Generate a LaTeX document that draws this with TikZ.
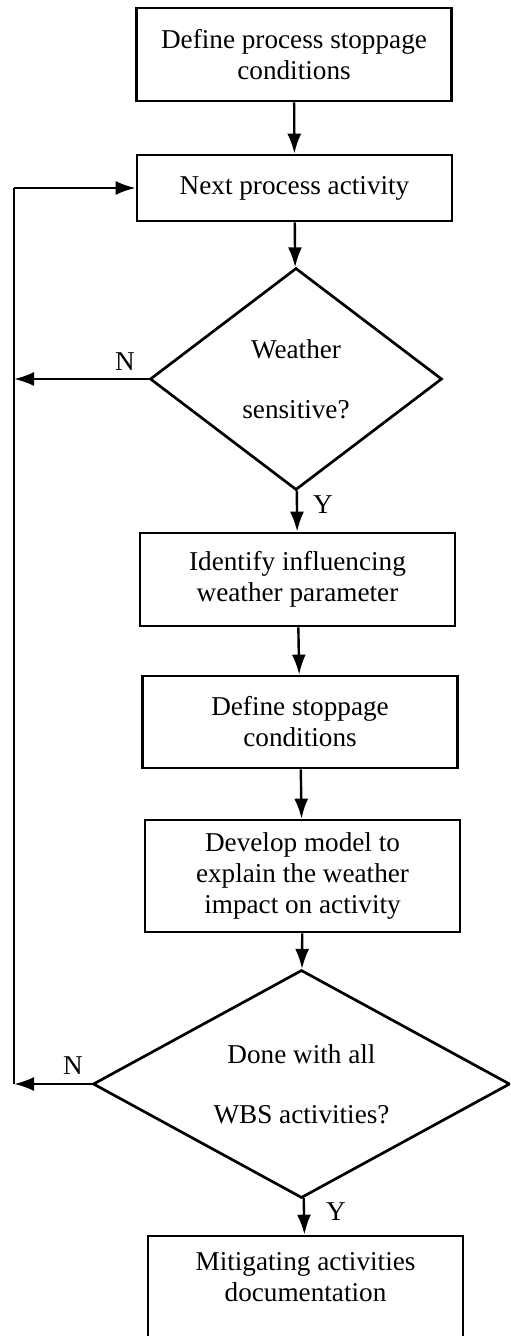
\documentclass[tikz,border=0pt]{standalone}
\usepackage{fontspec}
\setmainfont{Liberation Serif}
\usetikzlibrary{arrows.meta}
\usetikzlibrary{shapes.geometric}

\tikzset{
stepbox/.style={draw, line width=1.35pt, minimum width=157.5pt, align=center, inner sep=2pt},
decision/.style={draw, diamond, line width=1.35pt, align=center, inner sep=0pt},
flow/.style={line width=1.2pt, -{Latex[length=10pt,width=7pt]}},
}

\begin{document}
\begin{tikzpicture}[x=0.5pt, y=-0.5pt, font=\fontsize{13.6pt}{15.5pt}\selectfont]
\useasboundingbox (0,0) rectangle (510,1336);
\clip (0,0) rectangle (510,1336);

%process steps
\node[stepbox, minimum height=46.5pt] (define) at (294,54.5) {Define process stoppage\\conditions};
\node[stepbox, minimum height=33pt] (next) at (294.5,188) {Next process activity};
\node[decision, minimum width=146pt, minimum height=111pt, shape aspect=1.3] (sensitive) at (296,379) {Weather\\[14.5pt]sensitive?};
\node[stepbox, minimum height=46.5pt] (identify) at (297.5,579.5) {Identify influencing\\weather parameter};
\node[stepbox, minimum height=46pt] (stoppage) at (300,722) {Define stoppage\\conditions};
\node[stepbox, minimum height=56pt] (model) at (302.5,876) {Develop model to\\explain the weather\\impact on activity};
\node[decision, minimum width=208.5pt, minimum height=114pt, shape aspect=2] (done) at (301.5,1084) {Done with all\\[14.5pt]WBS activities?};
\node[stepbox, minimum height=56pt] (mitigate) at (305.5,1292) {Mitigating activities\\documentation\\ ~};

%return line
\coordinate (ltop) at (14,188);
\coordinate (lbot) at (14,1084);

\draw[flow] (define) -- (next);
\draw[flow] (next) -- (sensitive);
\draw[flow] (sensitive) -- (identify);
\draw[flow] (identify) -- (stoppage);
\draw[flow] (stoppage) -- (model);
\draw[flow] (model) -- (done);
\draw[flow] (done) -- (mitigate);

\draw[line width=1.2pt] (lbot) -- (ltop);
\draw[flow] (ltop) -- (next.west);
\draw[flow] (sensitive.west) -- (sensitive.west -| ltop);
\draw[flow] (done.west) -- (lbot);

%labels
\node (n1) at (125,362) {N};
\node (y1) at (323,505) {Y};
\node (n2) at (73,1066) {N};
\node (y2) at (336,1212) {Y};
\end{tikzpicture}
\end{document}
